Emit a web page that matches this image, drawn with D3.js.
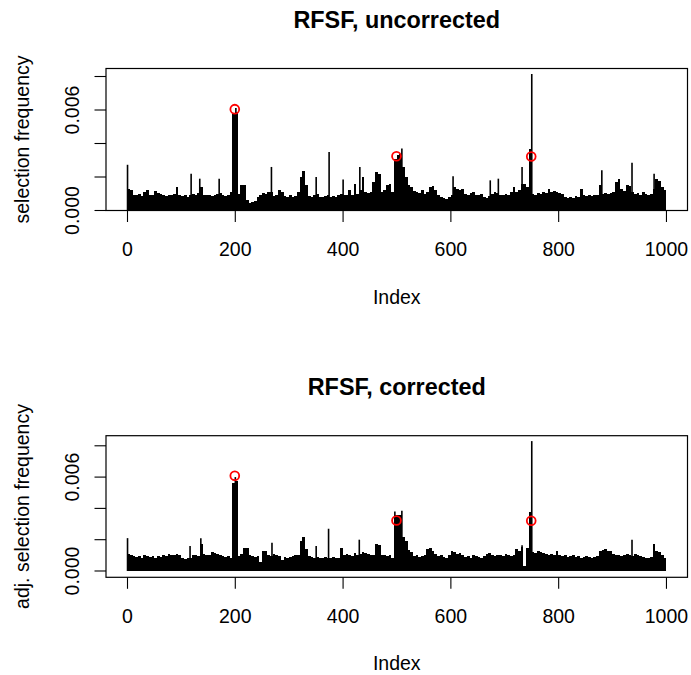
<!DOCTYPE html>
<html>
<head>
<meta charset="utf-8">
<script src="https://cdn.jsdelivr.net/npm/d3@7"></script>
<style>
  body { margin: 0; background: #fff; }
  svg { display: block; font-family: "Liberation Sans", Arial, Helvetica, sans-serif; }
</style>
</head>
<body>
<div id="wrapper"></div>
<script>
// selection frequencies in units of 1e-5; each entry is the level of 5 consecutive indices (1-5, 6-10, ...)
const uncorrectedBlocks = [
  130,120,95,90,100,85,110,120,95,90,
  115,105,100,95,85,95,90,100,140,95,
  85,90,80,95,100,90,105,140,95,90,
  95,85,95,100,105,90,85,90,110,585,
  590,100,150,155,60,45,50,55,80,95,
  105,100,110,110,85,90,120,110,85,80,
  90,80,85,110,200,235,150,85,80,90,
  100,80,80,85,95,80,85,80,90,100,
  95,90,120,95,160,100,120,200,110,105,
  110,170,230,220,110,120,155,160,110,310,
  330,340,260,200,150,140,115,110,105,120,
  100,110,140,145,120,90,80,75,70,80,
  90,140,130,120,130,100,95,105,110,95,
  90,100,80,75,85,100,110,105,95,90,
  100,95,110,140,110,120,160,160,140,370,
  100,95,105,100,110,105,130,110,115,110,
  105,100,80,75,80,75,85,80,130,90,
  85,90,85,90,95,150,100,105,100,105,
  110,170,190,130,115,150,145,110,100,105,
  95,110,100,95,100,130,190,175,140,120
];
// single indices that stand out above their neighbours: [index, value x 1e-5]
const uncorrectedSpikes = [
  [1, 273], [119, 220], [135, 190], [171, 190], [202, 612], [268, 260],
  [351, 200], [375, 350], [401, 185], [432, 260], [510, 370], [605, 205],
  [674, 180], [689, 190], [733, 260], [751, 815], [881, 240], [937, 285], [978, 220]
];
const uncorrectedMarked = [[200, 605], [500, 324], [750, 322]];

const correctedBlocks = [
  110,105,95,90,95,85,100,95,90,95,
  85,95,90,100,95,110,100,105,110,100,
  80,75,80,85,105,100,95,170,110,105,
  100,120,115,110,100,95,90,95,85,560,
  575,95,110,145,150,105,95,90,95,60,
  130,125,100,95,110,100,95,70,90,85,
  90,95,100,105,190,215,140,95,90,85,
  90,85,80,90,85,85,90,80,85,150,
  100,110,105,95,115,105,110,120,115,110,
  100,105,175,165,105,100,95,100,85,355,
  360,360,220,190,135,120,95,100,90,95,
  105,140,150,130,110,95,100,90,85,100,
  125,120,110,115,100,90,95,85,100,95,
  90,80,95,110,115,100,95,100,105,95,
  110,100,95,105,140,130,155,30,150,380,
  120,115,125,120,115,110,100,110,105,125,
  100,95,100,90,95,100,90,95,85,90,
  95,90,85,90,95,130,135,140,130,125,
  110,100,105,95,100,110,100,95,110,100,
  95,90,85,80,90,175,130,120,100,85
];
const correctedSpikes = [
  [1, 210], [117, 160], [137, 210], [201, 600], [269, 180], [351, 160],
  [374, 270], [431, 200], [497, 380], [510, 385], [733, 165], [751, 830], [937, 200]
];
const correctedMarked = [[200, 609], [500, 323], [750, 321]];

const xTicks = [0, 200, 400, 600, 800, 1000];
const yTicks = [0, 0.002, 0.004, 0.006, 0.008];
const yTickLabels = ["0.000", "", "", "0.006", ""];
const titles = ["RFSF, uncorrected", "RFSF, corrected"];
const yTitles = ["selection frequency", "adj. selection frequency"];
const xTitle = "Index";
const blockSize = 5;
const unit = 1e-5;

function draw() {
    const width = 691, height = 675;
    const fontSize = 19.5;

    const svg = d3.select('#wrapper')
        .append('svg')
        .attr('width', width)
        .attr('height', height);

    const panels = [
        { top: 68.5, bottom: 210.5, yDomain: [0, 0.008478],
          blocks: uncorrectedBlocks, spikes: uncorrectedSpikes, marked: uncorrectedMarked,
          title: titles[0], yTitle: yTitles[0] },
        { top: 435.7, bottom: 577.3, yDomain: [-0.000403, 0.008645],
          blocks: correctedBlocks, spikes: correctedSpikes, marked: correctedMarked,
          title: titles[1], yTitle: yTitles[1] }
    ];

    const left = 106, right = 687.5;
    const xScale = d3.scaleLinear()
        .domain([1 - 0.04 * 999, 1000 + 0.04 * 999])
        .range([left, right]);

    panels.forEach(p => {
        const yScale = d3.scaleLinear()
            .domain(p.yDomain)
            .range([p.bottom, p.top]);
        const g = svg.append('g');

        // bars (type = "h"), grouped by blocks of 5 indices
        g.append('g')
            .attr('shape-rendering', 'crispEdges')
            .selectAll('rect')
            .data(p.blocks)
            .enter()
            .append('rect')
            .attr('x', (d, i) => xScale(i * blockSize + 0.5))
            .attr('width', xScale(blockSize) - xScale(0))
            .attr('y', d => yScale(d * unit))
            .attr('height', d => yScale(0) - yScale(d * unit))
            .attr('fill', '#000');

        g.append('g')
            .selectAll('line')
            .data(p.spikes)
            .enter()
            .append('line')
            .attr('x1', d => xScale(d[0]))
            .attr('x2', d => xScale(d[0]))
            .attr('y1', yScale(0))
            .attr('y2', d => yScale(d[1] * unit))
            .attr('stroke', '#000')
            .attr('stroke-width', 1.6);

        // red circles on the informative variables
        g.append('g')
            .selectAll('circle')
            .data(p.marked)
            .enter()
            .append('circle')
            .attr('cx', d => xScale(d[0]))
            .attr('cy', d => yScale(d[1] * unit))
            .attr('r', 4.4)
            .attr('fill', 'none')
            .attr('stroke', '#ff0000')
            .attr('stroke-width', 1.8);

        // box
        g.append('rect')
            .attr('x', left)
            .attr('y', p.top)
            .attr('width', right - left)
            .attr('height', p.bottom - p.top)
            .attr('fill', 'none')
            .attr('stroke', '#000')
            .attr('stroke-width', 1.2);

        // x axis
        const xAxis = d3.axisBottom(xScale)
            .tickValues(xTicks)
            .tickFormat(d3.format('d'))
            .tickSize(11.5);
        const xg = g.append('g')
            .attr('transform', `translate(0,${p.bottom})`)
            .call(xAxis);
        xg.select('.domain').remove();
        xg.selectAll('line').attr('stroke', '#000').attr('stroke-width', 1.1);
        xg.selectAll('text')
            .attr('fill', '#000')
            .attr('dy', null)
            .attr('y', 45.5)
            .style('font-size', `${fontSize}px`)
            .style('font-family', '"Liberation Sans", Arial, sans-serif');

        // y axis
        const yg = g.append('g');
        yg.selectAll('line')
            .data(yTicks)
            .enter()
            .append('line')
            .attr('x1', left - 11.5)
            .attr('x2', left)
            .attr('y1', d => yScale(d))
            .attr('y2', d => yScale(d))
            .attr('stroke', '#000')
            .attr('stroke-width', 1.1);
        yg.selectAll('text')
            .data(yTicks)
            .enter()
            .append('text')
            .attr('transform', d => `translate(79,${yScale(d)}) rotate(-90)`)
            .attr('text-anchor', 'middle')
            .style('font-size', `${fontSize}px`)
            .text((d, i) => yTickLabels[i]);

        // titles
        g.append('text')
            .attr('x', (left + right) / 2)
            .attr('y', p.top - 40.5)
            .attr('text-anchor', 'middle')
            .style('font-size', `${fontSize * 1.2}px`)
            .style('font-weight', 'bold')
            .text(p.title);
        g.append('text')
            .attr('x', (left + right) / 2)
            .attr('y', p.bottom + 93)
            .attr('text-anchor', 'middle')
            .style('font-size', `${fontSize}px`)
            .text(xTitle);
        g.append('text')
            .attr('transform', `translate(29,${(p.top + p.bottom) / 2}) rotate(-90)`)
            .attr('text-anchor', 'middle')
            .style('font-size', `${fontSize}px`)
            .text(p.yTitle);
    });
}

draw();
</script>
</body>
</html>
